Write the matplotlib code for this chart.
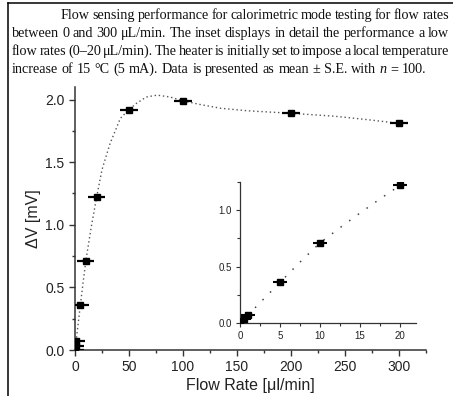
import matplotlib
matplotlib.use('Agg')
import matplotlib.pyplot as plt
from matplotlib.ticker import MultipleLocator, FormatStrFormatter
from matplotlib.transforms import IdentityTransform
from matplotlib.lines import Line2D

# measured points (mean, horizontal bars as drawn)
flow = [0, 0.5, 1, 5, 10, 20, 50, 100, 200, 300]
dv = [0.0, 0.035, 0.075, 0.36, 0.71, 1.22, 1.92, 1.99, 1.89, 1.81]
flow_err_main = 8.0
flow_err_inset = 0.9

# dotted guide curves
fit_x = [0, 1, 2.5, 5, 7.5, 10, 15, 20, 25, 32.5, 42, 50, 57, 66, 76, 88,
         100, 116, 135, 160, 200, 240, 270, 300]
fit_y = [0, 0.07, 0.18, 0.36, 0.54, 0.71, 0.98, 1.22, 1.44, 1.65, 1.85, 1.92,
         1.97, 2.02, 2.035, 2.02, 1.99, 1.96, 1.93, 1.91, 1.89, 1.867, 1.84, 1.81]
inset_fit_x = [0, 1, 2.5, 5, 7.5, 10, 12.5, 15, 17.5, 20, 21.6]
inset_fit_y = [0, 0.07, 0.18, 0.36, 0.54, 0.71, 0.845, 0.975, 1.10, 1.22, 1.28]

caption = [
    "Flow sensing performance for calorimetric mode testing for flow rates",
    "between 0 and 300 μL/min. The inset displays in detail the performance a low",
    "flow rates (0–20 μL/min). The heater is initially set to impose a local temperature",
    "increase of 15 °C (5 mA). Data is presented as mean ± S.E. with n = 100.",
]

W, H = 453, 396
plt.rcParams['font.family'] = ['Liberation Sans', 'DejaVu Sans']

fig = plt.figure(figsize=(W / 100, H / 100), dpi=100)
renderer = fig.canvas.get_renderer()


def put_line(words, x0, x1, y_img, justify, size=10.2, min_gap=2.0):
    """Places words of one caption line, spread between x0 and x1."""
    objs = []
    for w in words:
        style = 'italic' if w == 'n' else 'normal'
        t = fig.text(0, 0, w, transform=IdentityTransform(), fontsize=size,
                     family=['Liberation Serif', 'DejaVu Serif'], style=style,
                     va='baseline', ha='left', color='#111')
        objs.append(t)
    widths = [t.get_window_extent(renderer).width for t in objs]
    if justify:
        gap = (x1 - x0 - sum(widths)) / (len(words) - 1)
        if gap < min_gap:
            # squeeze the type a little so the words keep apart
            k = (x1 - x0 - min_gap * (len(words) - 1)) / sum(widths)
            for t in objs:
                t.set_fontsize(size * k)
            widths = [wd * k for wd in widths]
            gap = min_gap
    else:
        gap = 3.6
    x = x0
    for t, wd in zip(objs, widths):
        t.set_position((x, H - y_img))
        x += wd + gap


baselines = [19, 37, 55, 73]
for i, line in enumerate(caption):
    x0 = 61 if i == 0 else 12
    put_line(line.split(' '), x0, 449, baselines[i], justify=(i < 3))

# frame lines round the panel
fig.add_artist(Line2D([8 / W, 8 / W], [0, 1 - 3 / H], transform=fig.transFigure,
                      color='k', lw=1.1))
fig.add_artist(Line2D([8 / W, 1], [1 - 3 / H, 1 - 3 / H], transform=fig.transFigure,
                      color='k', lw=1.1))

spine_c = '#333333'

# main axes
ax = fig.add_axes([75 / W, 46 / H, 351 / W, 263 / H])
ax.plot(fit_x, fit_y, linestyle=(0, (1, 2)), color='#555555', lw=1.0, zorder=2)
ax.errorbar(flow, dv, xerr=flow_err_main, fmt='s', color='k', ms=4.3, elinewidth=1.6,
            capsize=0, zorder=3)
ax.set_xlim(0, 325)
ax.set_ylim(0, 2.1)
ax.xaxis.set_major_locator(MultipleLocator(50))
ax.xaxis.set_minor_locator(MultipleLocator(25))
ax.yaxis.set_major_locator(MultipleLocator(0.5))
ax.yaxis.set_minor_locator(MultipleLocator(0.25))
ax.yaxis.set_major_formatter(FormatStrFormatter('%.1f'))
ax.set_xlabel('Flow Rate [μl/min]', fontsize=11.5, color='#222222')
ax.set_ylabel('ΔV [mV]', fontsize=11.5, color='#222222')
ax.xaxis.set_label_coords(0.5, -0.105)
ax.yaxis.set_label_coords(-0.097, 0.5)

# inset
axi = fig.add_axes([240 / W, (H - 323) / H, 176 / W, 141 / H])
axi.plot(inset_fit_x, inset_fit_y, linestyle=(0, (1, 6)), color='#444444', lw=1.1,
         zorder=2)
axi.errorbar(flow, dv, xerr=flow_err_inset, fmt='s', color='k', ms=4,
             elinewidth=1.5, capsize=0, zorder=3)
axi.set_xlim(0, 22)
axi.set_ylim(0, 1.25)
axi.xaxis.set_major_locator(MultipleLocator(5))
axi.xaxis.set_minor_locator(MultipleLocator(2.5))
axi.yaxis.set_major_locator(MultipleLocator(0.5))
axi.yaxis.set_minor_locator(MultipleLocator(0.25))
axi.yaxis.set_major_formatter(FormatStrFormatter('%.1f'))

for a, big in ((ax, True), (axi, False)):
    a.spines['top'].set_visible(False)
    a.spines['right'].set_visible(False)
    for s in ('left', 'bottom'):
        a.spines[s].set_color(spine_c)
        a.spines[s].set_linewidth(1.1 if big else 0.9)
    a.tick_params(which='major', direction='out', length=4.5 if big else 3,
                  width=1.0 if big else 0.8, colors=spine_c,
                  labelsize=10 if big else 7, labelcolor='#222222', pad=3)
    a.tick_params(which='minor', direction='out', length=2.5 if big else 2,
                  width=1.0 if big else 0.8, colors=spine_c)
    a.set_facecolor('none')

fig.savefig('out.png', dpi=100)
